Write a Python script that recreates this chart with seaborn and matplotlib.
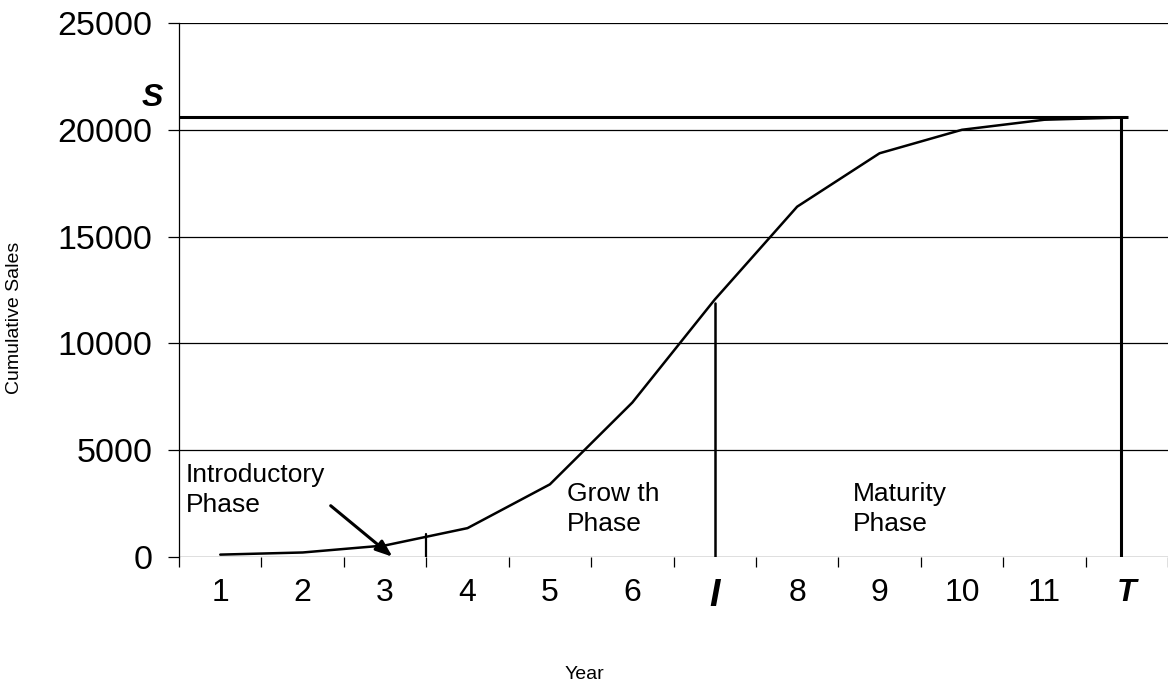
import matplotlib
matplotlib.use("Agg")
import matplotlib.pyplot as plt
import seaborn as sns
import pandas as pd

# ---------------------------------------------
# data
# ---------------------------------------------
years = [1, 2, 3, 4, 5, 6, 7, 8, 9, 10, 11, 12]
year_labels = ["1", "2", "3", "4", "5", "6", "I", "8", "9", "10", "11", "T"]
cum_sales = [110, 210, 540, 1350, 3400, 7230, 12050, 16400, 18900, 20000, 20470, 20580]

saturation = 20620          # S line
intro_end = (3.5, 1080)     # end of introductory phase marker
inflection = (7, 11900)     # I marker
t_end = (11.93, saturation) # T marker

phase_labels = ["Introductory\nPhase", "Grow th\nPhase", "Maturity\nPhase"]
phase_x = [0.58, 5.21, 8.68]
phase_y = [4420, 3520, 3520]

arrow_tail = (2.34, 2400)
arrow_head = (3.09, 10)

y_ticks = [0, 5000, 10000, 15000, 20000, 25000]

df = pd.DataFrame({"Year": years, "Cumulative Sales": cum_sales})

# ---------------------------------------------
# plot
# ---------------------------------------------
sns.set_style("white")
plt.rcParams["font.family"] = ["Liberation Sans", "DejaVu Sans"]
plt.rcParams["text.color"] = "black"
plt.rcParams["axes.labelcolor"] = "black"
plt.rcParams["xtick.color"] = "black"
plt.rcParams["ytick.color"] = "black"

fig = plt.figure(figsize=(11.68, 6.9), dpi=100)
ax = fig.add_axes([0.1533, 0.1928, 0.8467, 0.7739])

sns.lineplot(data=df, x="Year", y="Cumulative Sales", color="black",
             linewidth=1.8, ax=ax)

# gridlines
for yv in y_ticks:
    ax.axhline(yv, color="black", linewidth=0.9, zorder=1)

# S line and vertical markers
ax.plot([0.5, 12.02], [saturation, saturation], color="black", linewidth=2.2,
        solid_capstyle="butt")
ax.plot([intro_end[0], intro_end[0]], [0, intro_end[1]], color="black", linewidth=1.6)
ax.plot([inflection[0], inflection[0]], [0, inflection[1]], color="black", linewidth=1.8)
ax.plot([t_end[0], t_end[0]], [0, t_end[1]], color="black", linewidth=2.2)

# phase labels
for lab, px, py in zip(phase_labels, phase_x, phase_y):
    ax.text(px, py, lab, ha="left", va="top", fontsize=19, linespacing=1.33,
            color="black")

ax.annotate("", xy=arrow_head, xytext=arrow_tail,
            arrowprops=dict(arrowstyle="-|>,head_length=1.0,head_width=0.38",
                            color="black", lw=2.2, shrinkA=0, shrinkB=0))

ax.text(0.18, 21500, "S", ha="center", va="center", fontsize=23,
        fontweight="bold", fontstyle="italic", clip_on=False, color="black")

# axes limits and ticks
ax.set_xlim(0.5, 12.5)
ax.set_ylim(0, 25000)

ax.set_yticks(y_ticks)
ax.set_yticklabels([str(v) for v in y_ticks], fontsize=24.5)
ax.tick_params(axis="y", direction="out", length=8, width=0.9, pad=11, left=True)

ax.set_xticks(years)
ax.set_xticklabels(year_labels, fontsize=23)
ax.set_xticks([y + 0.5 for y in [0] + years], minor=True)
ax.tick_params(axis="x", which="major", length=0, pad=15)
ax.tick_params(axis="x", which="minor", direction="out", length=7, width=0.9, bottom=True)
for t in ax.get_xticklabels():
    if t.get_text() in ("I", "T"):
        t.set_fontweight("bold")
        t.set_fontstyle("italic")
    if t.get_text() == "I":
        t.set_fontsize(27)

ax.set_xlabel("Year", fontsize=14)
ax.xaxis.set_label_coords(0.41, -0.205)
ax.set_ylabel("Cumulative Sales", fontsize=14)
ax.yaxis.set_label_coords(-0.158, 0.447)

for side in ["top", "right"]:
    ax.spines[side].set_visible(False)
ax.spines["left"].set_color("black")
ax.spines["left"].set_linewidth(0.9)
ax.spines["bottom"].set_visible(False)

fig.savefig("out.png", dpi=100)
plt.close(fig)
